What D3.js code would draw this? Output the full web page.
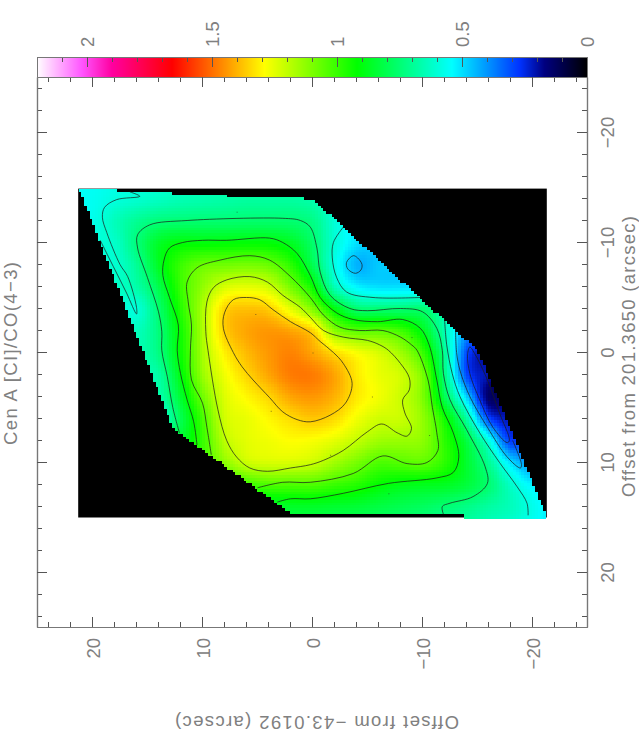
<!DOCTYPE html>
<html><head><meta charset="utf-8">
<style>html,body{margin:0;padding:0;background:#fff}svg{display:block}
text{font-family:"Liberation Sans",Arial,sans-serif;font-size:18.5px;fill:#808080}</style>
<script src="https://cdn.jsdelivr.net/npm/d3@7"></script></head><body><div id="chart"></div>
<script>
const titleText="Cen A [CI]/CO(4\u22123)";
const xLabel="Offset from \u221243.0192 (arcsec)";
const yLabel="Offset from 201.3650 (arcsec)";
const majorTicks=[-20,-10,0,10,20];
const minorTicks=[-24,-22,-18,-16,-14,-12,-8,-6,-4,-2,2,4,6,8,12,14,16,18,22,24];
const barMajor=[0,0.5,1,1.5,2];
const barMinor=[0.1,0.2,0.3,0.4,0.6,0.7,0.8,0.9,1.1,1.2,1.3,1.4,1.6,1.7,1.8,1.9,2.1];
const colorValues=[0,0.17,0.27,0.54,0.92,1.29,1.66,1.9,2.02,2.2];
const colorStops=["#000000","#000080","#0033ff","#00ffff","#00ff00","#ffff00","#ff0000","#ff00a0","#ff55ff","#ffffff"];
const gridX=[22,20,18,16,14,12,10,8,6,4,2,0,-2,-4,-6,-8,-10,-12,-14,-16,-18,-20,-22];
const gridY=[-16,-14,-12,-10,-8,-6,-4,-2,0,2,4,6,8,10,12,14,16];
const ratio=[
[.54,.55,.57,.59,.61,.62,.63,.64,.64,.64,.64,.62,.56,.5,.5,.5,.5,.5,.5,.5,.5,.5,.5],
[.55,.56,.59,.61,.63,.65,.66,.67,.68,.68,.68,.66,.60,.55,.5,.5,.5,.5,.5,.5,.5,.5,.5],
[.54,.57,.64,.70,.74,.75,.755,.755,.76,.76,.755,.72,.60,.52,.50,.48,.48,.48,.48,.48,.48,.48,.48],
[.60,.60,.62,.74,.86,.905,.905,.91,.915,.91,.87,.76,.60,.50,.47,.46,.46,.46,.46,.46,.46,.46,.46],
[.62,.62,.61,.70,.87,1.0,1.07,1.08,1.09,1.07,.98,.80,.58,.44,.47,.47,.48,.48,.48,.48,.48,.48,.48],
[.62,.62,.62,.67,.81,1.0,1.13,1.23,1.25,1.22,1.09,.93,.65,.53,.50,.50,.50,.50,.50,.50,.50,.50,.50],
[.62,.62,.62,.60,.76,.97,1.17,1.35,1.38,1.36,1.25,1.10,.90,.76,.75,.75,.75,.64,.55,.45,.4,.4,.4],
[.62,.63,.64,.64,.74,.94,1.17,1.36,1.42,1.44,1.42,1.35,1.12,1.05,1.05,1.01,.88,.65,.42,.36,.35,.35,.35],
[.62,.62,.63,.65,.73,.93,1.16,1.31,1.39,1.44,1.47,1.42,1.34,1.28,1.23,1.15,1.0,.70,.30,.2,.25,.3,.3],
[.65,.65,.65,.66,.68,.90,1.14,1.27,1.35,1.42,1.48,1.48,1.42,1.32,1.26,1.22,1.09,.73,.30,.2,.1,.3,.3],
[.65,.65,.65,.65,.66,.85,1.08,1.24,1.30,1.35,1.42,1.44,1.40,1.32,1.27,1.21,1.10,.80,.48,.14,.2,.3,.3],
[.65,.65,.65,.62,.60,.80,1.02,1.22,1.26,1.30,1.34,1.37,1.34,1.27,1.22,1.21,1.13,.94,.68,.30,.22,.35,.35],
[.7,.7,.7,.7,.75,.85,1.0,1.19,1.25,1.27,1.29,1.28,1.25,1.20,1.15,1.14,1.12,.98,.82,.58,.28,.4,.5],
[.75,.75,.75,.8,.85,.9,1.0,1.12,1.21,1.23,1.23,1.21,1.15,1.09,1.03,1.04,1.05,.98,.85,.70,.50,.40,.5],
[.8,.8,.8,.8,.85,.9,.92,.95,1.0,1.03,1.03,1.03,1.0,.97,.92,.89,.88,.87,.83,.75,.62,.52,.5],
[.8,.8,.8,.8,.8,.82,.83,.84,.85,.85,.86,.86,.85,.84,.82,.80,.78,.75,.72,.68,.64,.57,.5],
[.8,.8,.8,.8,.8,.8,.8,.8,.82,.82,.82,.82,.80,.79,.77,.75,.73,.70,.68,.64,.60,.55,.5]];
const mapExtentX=[21.3,-21.3];
const mapExtentY=[-14.9,15];
const footprint=[[21.2,-14.9],[18.2,-14.8],[12.2,-14.5],[6.3,-14.2],[0,-14],[-9.5,-5.2],[-15,-.2],[-21.3,15],[-13.7,15],[-13.7,14.65],[1.9,14.65],[12.7,6.9],[15.4,0],[21.2,-14.8]];
const specks=[[6.9,-12.8],[5.2,-3.5],[0,0],[3.8,5.3],[-5.4,4],[-1.6,9.3],[-10.6,7.5],[-6.9,12.8],[-16,4.3],[-9,-1.4]];
const c135=[[7.2,0],[8.1,-2.2],[8,-3.6],[7.2,-4.8],[6,-5],[4.8,-4.8],[3.6,-3.9],[2,-2.8],[.2,-1.8],[-.7,-1],[-1.9,0],[-2.8,1],[-3.6,2.8],[-3,4.6],[-1.6,5.7],[.2,6.3],[1.4,6.1],[2.7,5.4],[3.9,4.1],[5.4,2.5],[6.4,1.3]];
const c120=[[9.5,-.2],[9.7,-1.9],[9.6,-4.6],[9,-5.9],[7.8,-6.6],[5.7,-6.9],[4.1,-6.4],[2.7,-5.2],[1.1,-4.1],[.2,-3.2],[-1,-2],[-2.8,-1.4],[-5,-1.1],[-6.1,-.7],[-6.9,-.2],[-8,1],[-8.8,2.3],[-8.8,3.4],[-8.2,4.3],[-8.4,5.5],[-9,6.9],[-8.6,7.6],[-7.7,7.3],[-6.3,6.5],[-5,7.2],[-2.8,8.9],[-1,9.8],[.2,10.2],[2,10.5],[4.1,10.8],[5.7,10.5],[6.9,9.5],[7.8,8],[8.6,5.2]];
const c105=[[9.2,9.3],[9.6,6.8],[10,4.6],[11,2.5],[11.1,-.2],[11,-2.5],[11.3,-4.6],[11.4,-6.4],[10.5,-7.7],[8.4,-8.4],[5.7,-8.8],[3.9,-8.4],[2,-6.9],[.2,-5],[-1,-3.4],[-2.5,-2.3],[-4.3,-2],[-6.4,-2],[-8,-1.4],[-9,-.7],[-9.5,-.2],[-10.5,2.5],[-10.9,5],[-11.3,7.3],[-11.4,8.9],[-10.4,10],[-8.6,10.1],[-6.4,9.4],[-3.7,11],[.2,11.8],[2.7,11.8],[5,12.3]];
const c090=[[10.5,8.4],[10.8,6.3],[11.4,4.3],[12,1.9],[12.3,-.2],[12.2,-2.5],[13,-5],[13.6,-7],[13.5,-8.4],[13,-9.5],[11.8,-10],[10,-10.2],[7.8,-10.2],[3.9,-10.4],[2.7,-10],[1.4,-9],[.2,-7],[-.7,-5],[-2.2,-3.6],[-3.7,-3],[-5.9,-2.8],[-8.2,-3],[-9.8,-2.2],[-10.6,-.7],[-11.3,2.5],[-11.8,5],[-12.8,7.3],[-13.3,9.5],[-12.8,10.9],[-11.3,11.4],[-6.9,11.9],[-2.8,12.8],[.2,13.3],[2,13.3],[3.2,13.6]];
const c075=[[12.1,7.3],[12.7,5],[13.2,2.2],[13.7,-.2],[13.7,-1.9],[14,-3.7],[15,-6.8],[15.9,-9.5],[15.9,-10.7],[14.8,-11.6],[11.4,-12],[2.7,-12.2],[1.1,-12],[.2,-11.4],[-.4,-9.5],[-.7,-7.3],[-1.6,-5.2],[-3.4,-4],[-5,-3.8],[-8,-4],[-10,-3.7],[-11.3,-2.2],[-11.8,-.2],[-11.9,1.9],[-12.5,4.3],[-14,7],[-15.7,10.4],[-15.9,11.9],[-14.6,13.1],[-12.5,13.7],[-11.8,14],[-11.9,14.7]];
const c060a=[[16.6,-14.6],[15.7,-14.2],[17.8,-13.9],[18.9,-13.2],[19.1,-12.3],[18.7,-10.9],[17.5,-8],[16.8,-6.9],[16,-4.1],[16,-3.5],[16.9,-5.4],[18.1,-7.8],[19.3,-10.2]];
const c060b=[[-2.8,-11.4],[-1.9,-10],[-1.8,-8.6],[-2.2,-6.8],[-3.1,-5.5],[-5.5,-5],[-9.8,-5]];
const c060c=[[-12,-3.1],[-12.2,-.7],[-12.7,1.9],[-13.4,4],[-15.2,7.3],[-17,10],[-18.6,12.2],[-19.5,13.7],[-19.6,14.8]];
const c045a=[[-3.7,-8.8],[-3.1,-8.2],[-3.2,-7.6],[-3.9,-7.2],[-4.4,-7.5],[-4.5,-8],[-4.1,-8.6]];
const c045b=[[-13,-2.2],[-13.1,0],[-13.4,1.6],[-14.3,4],[-15.9,6.8],[-17.7,9.5],[-18.9,10.5],[-19,10.2],[-18.2,8]];
const c030=[[-14.1,.2],[-14.3,1.9],[-15.2,4.3],[-16.4,6.8],[-17.7,8.2],[-17.9,8],[-17,5.5],[-15.9,2.5],[-14.8,.2],[-14.3,-.5]];
const openContours=[c105,c090,c075,c060a,c060b,c060c,c045b];
const closedContours=[c135,c120,c045a,c030];
const fmtTick=d=>String(d).replace("-","\u2212");

const W=639,H=732;
const svg=d3.select("#chart").append("svg").attr("width",W).attr("height",H);
const x=d3.scaleLinear().domain([25,-25]).range([37,587]);
const y=d3.scaleLinear().domain([-25,25]).range([77,627]);
const bar=d3.scaleLinear().domain([2.2,0]).range([37,587]);
const color=d3.scaleLinear().domain(colorValues).range(colorStops).clamp(true);

function cr(p0,p1,p2,p3,t){return p1+.5*t*(p2-p0+t*(2*p0-5*p1+4*p2-p3+t*(3*(p1-p2)+p3-p0)));}
function field(u,v){
  const fx=(gridX[0]-u)/2, fy=(v-gridY[0])/2;
  const ix=Math.floor(fx), iy=Math.floor(fy), tx=fx-ix, ty=fy-iy;
  const cl=(a,n)=>Math.max(0,Math.min(n-1,a));
  const col=[];
  for(let j=-1;j<=2;j++){
    const row=ratio[cl(iy+j,gridY.length)];
    col.push(cr(row[cl(ix-1,gridX.length)],row[cl(ix,gridX.length)],row[cl(ix+1,gridX.length)],row[cl(ix+2,gridX.length)],tx));
  }
  return cr(col[0],col[1],col[2],col[3],ty);
}

// colour bar
const barCells=d3.range(bar.range()[0],bar.range()[1]).map(px=>bar.invert(px+.5));
svg.append("g").attr("shape-rendering","crispEdges").selectAll("rect").data(barCells).join("rect")
  .attr("x",d=>Math.round(bar(d)-.5)).attr("y",57).attr("width",1.2).attr("height",20).attr("fill",d=>color(d));

// raster
const cell=.25;
const plot=svg.append("g").attr("transform","translate(.5,.5)");
plot.append("rect").attr("x",x(mapExtentX[0])).attr("y",y(mapExtentY[0]))
  .attr("width",x(mapExtentX[1])-x(mapExtentX[0])).attr("height",y(mapExtentY[1])-y(mapExtentY[0])).attr("fill","#000");
const cells=[];
for(let u=mapExtentX[0]-cell/2;u>mapExtentX[1];u-=cell){
  for(let v=mapExtentY[0]+cell/2;v<mapExtentY[1];v+=cell){
    if(d3.polygonContains(footprint,[u,v])) cells.push({u,v,val:field(u,v)});
  }
}
plot.append("g").attr("shape-rendering","crispEdges").selectAll("rect").data(cells).join("rect")
  .attr("x",d=>Math.round(x(d.u+cell/2))).attr("y",d=>Math.round(y(d.v-cell/2)))
  .attr("width",d=>Math.round(x(d.u-cell/2))-Math.round(x(d.u+cell/2)))
  .attr("height",d=>Math.round(y(d.v+cell/2))-Math.round(y(d.v-cell/2)))
  .attr("fill",d=>color(d.val));
plot.append("g").selectAll("rect").data(specks).join("rect")
  .attr("x",d=>x(d[0])).attr("y",d=>y(d[1])).attr("width",1).attr("height",1).attr("fill","#222").attr("opacity",.55);

// contours
const lineOpen=d3.line().x(d=>x(d[0])).y(d=>y(d[1])).curve(d3.curveCatmullRom.alpha(.5));
const lineClosed=d3.line().x(d=>x(d[0])).y(d=>y(d[1])).curve(d3.curveCatmullRomClosed.alpha(.5));
const cg=plot.append("g").attr("fill","none").attr("stroke","#1c1c1c").attr("stroke-width",.85).attr("stroke-opacity",.85);
cg.selectAll("path.o").data(openContours).join("path").attr("class","o").attr("d",lineOpen);
cg.selectAll("path.c").data(closedContours).join("path").attr("class","c").attr("d",lineClosed);

// axes
function styleAxis(g){
  g.selectAll("path.domain").attr("stroke","#777").attr("stroke-width",1.2);
  g.selectAll(".tick line").attr("stroke","#555").attr("stroke-width",1);
}
const topY=y.range()[0], botY=y.range()[1], lefX=x.range()[0], rigX=x.range()[1];
const sides=[
 {gen:d3.axisBottom(x),t:`translate(0,${botY})`},
 {gen:d3.axisTop(x),t:`translate(0,${topY})`},
 {gen:d3.axisLeft(y),t:`translate(${lefX},0)`},
 {gen:d3.axisRight(y),t:`translate(${rigX},0)`}];
sides.forEach(s=>{
  svg.append("g").attr("transform",s.t).call(s.gen.tickValues(minorTicks).tickSize(-5).tickSizeOuter(0).tickFormat("")).call(styleAxis);
  svg.append("g").attr("transform",s.t).call(s.gen.tickValues(majorTicks).tickSize(-10).tickSizeOuter(0).tickFormat("")).call(styleAxis);
});
// colour bar axes
svg.append("g").attr("transform","translate(0,57)").call(d3.axisBottom(bar).tickValues(barMinor).tickSize(5).tickSizeOuter(0).tickFormat("")).call(styleAxis);
svg.append("g").attr("transform","translate(0,57)").call(d3.axisBottom(bar).tickValues(barMajor).tickSize(10).tickSizeOuter(0).tickFormat("")).call(styleAxis);
svg.append("line").attr("x1",37.5).attr("x2",37.5).attr("y1",57).attr("y2",77).attr("stroke","#777");
svg.append("line").attr("x1",587.5).attr("x2",587.5).attr("y1",57).attr("y2",77).attr("stroke","#777");

// rotated labels
function rot(px,py,str,anchor,len){
  const t=svg.append("text").attr("transform",`translate(${px},${py}) rotate(-90)`).attr("text-anchor",anchor).text(str);
  if(len) t.attr("textLength",len).attr("lengthAdjust","spacing");
  return t;
}
majorTicks.forEach(d=>{ rot(x(d)+7.5,638,fmtTick(d),"end"); rot(613.5,y(d)+.5,fmtTick(d),"middle"); });
barMajor.forEach(d=>rot(bar(d)+7,47,String(d),"start"));
rot(16.7,353.5,titleText,"middle",183);
rot(635,356.5,yLabel,"middle",281);
svg.append("text").attr("transform",`translate(317,716) rotate(180)`).attr("text-anchor","middle").attr("textLength",284).attr("lengthAdjust","spacing").text(xLabel);
</script></body></html>
